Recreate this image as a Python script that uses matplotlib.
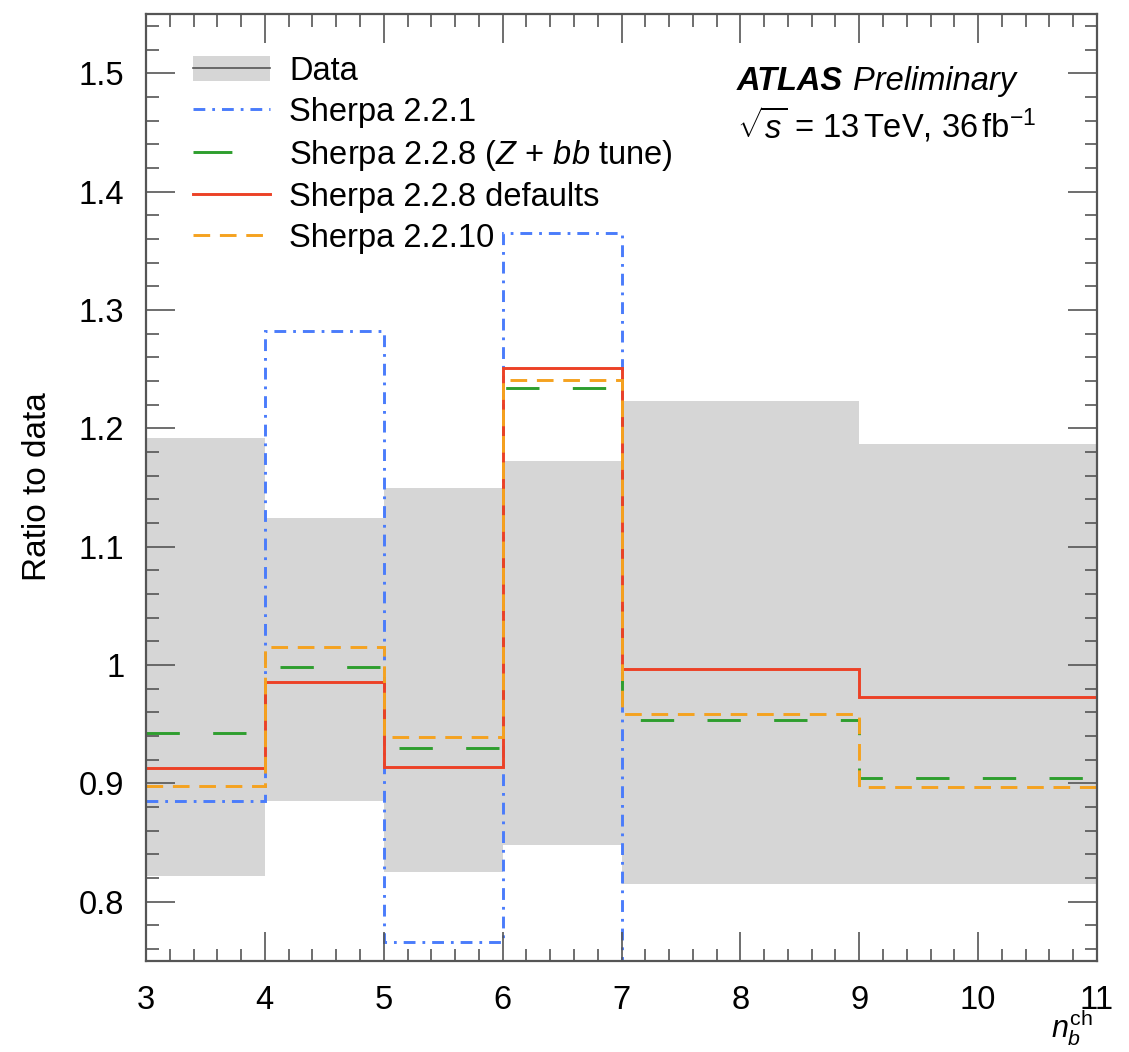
import matplotlib
matplotlib.use("Agg")
import matplotlib.pyplot as plt
from matplotlib.lines import Line2D
from matplotlib.patches import Patch
from matplotlib.ticker import MultipleLocator

# bin edges in n_b^ch
edges = [3, 4, 5, 6, 7, 9, 11]

# data uncertainty band (ratio to data)
data_lo = [0.822, 0.885, 0.825, 0.848, 0.815, 0.815]
data_hi = [1.192, 1.124, 1.150, 1.172, 1.223, 1.187]

# MC / data ratios
sherpa_221 = [0.885, 1.282, 0.766, 1.365, 0.70, 0.70]
sherpa_228_zbb = [0.943, 0.998, 0.930, 1.234, 0.954, 0.905]
sherpa_228_def = [0.913, 0.986, 0.914, 1.251, 0.997, 0.973]
sherpa_2210 = [0.898, 1.015, 0.939, 1.241, 0.959, 0.897]

labels = ["Data", "Sherpa 2.2.1", r"Sherpa 2.2.8 ($Z$ + $bb$ tune)",
          "Sherpa 2.2.8 defaults", "Sherpa 2.2.10"]

c_band = "#d6d6d6"
c_blue = "#4a7cfb"
c_green = "#2e9e2e"
c_red = "#ec4126"
c_orange = "#f5a21f"

plt.rcParams["font.family"] = ["Liberation Sans", "DejaVu Sans"]
plt.rcParams["mathtext.fontset"] = "custom"
plt.rcParams["mathtext.rm"] = "Liberation Sans"
plt.rcParams["mathtext.it"] = "Liberation Sans:italic"
plt.rcParams["mathtext.bf"] = "Liberation Sans:bold"
plt.rcParams["lines.scale_dashes"] = False

W, H = 1129, 1052
fig = plt.figure(figsize=(W / 100, H / 100), dpi=100)
ax = fig.add_axes([146 / W, 1 - 961 / H, (1097 - 146) / W, (961 - 14) / H])

lw = 2.1
blue_dash = (0, (8.5, 5, 2, 5))
green_dash = (0, (24, 24))
orange_dash = (0, (12, 7))

ax.stairs(data_hi, edges, baseline=data_lo, fill=True, color=c_band, lw=0)
ax.stairs(sherpa_221, edges, baseline=None, color=c_blue, lw=lw, linestyle=blue_dash)
ax.stairs(sherpa_228_zbb, edges, baseline=None, color=c_green, lw=lw, linestyle=green_dash)
ax.stairs(sherpa_228_def, edges, baseline=None, color=c_red, lw=lw)
ax.stairs(sherpa_2210, edges, baseline=None, color=c_orange, lw=lw, linestyle=orange_dash)

ax.set_xlim(3, 11)
ax.set_ylim(0.75, 1.55)
ax.xaxis.set_major_locator(MultipleLocator(1))
ax.xaxis.set_minor_locator(MultipleLocator(0.2))
ax.yaxis.set_major_locator(MultipleLocator(0.1))
ax.yaxis.set_minor_locator(MultipleLocator(0.02))
ax.yaxis.set_major_formatter(lambda v, p: "1" if abs(v - 1) < 1e-9 else f"{v:.1f}")

spine_c = "#555555"
for s in ax.spines.values():
    s.set_color(spine_c)
    s.set_linewidth(1.6)
ax.tick_params(which="both", direction="in", top=True, right=True, color=spine_c,
               labelsize=23.5, width=1.2)
ax.tick_params(which="major", length=21)
ax.tick_params(which="minor", length=9)
ax.tick_params(axis="x", which="major", pad=17)
ax.tick_params(axis="y", which="major", pad=15.5)

# legend with proxy handles
h_data = (Patch(facecolor=c_band, edgecolor="none"), Line2D([], [], color="#555555", lw=1.2))
h_blue = Line2D([], [], color=c_blue, lw=lw, linestyle=blue_dash)
h_green = Line2D([], [], color=c_green, lw=lw, linestyle=(0, (28, 40)))
h_red = Line2D([], [], color=c_red, lw=lw)
h_orange = Line2D([], [], color=c_orange, lw=lw, linestyle=orange_dash)
ax.legend([h_data, h_blue, h_green, h_red, h_orange], labels, loc="upper left",
          bbox_to_anchor=((193 - 146) / 951, 1 - (56 - 14) / 947), borderaxespad=0,
          borderpad=0, frameon=False, fontsize=23.5, handlelength=2.35,
          handleheight=0.8, handletextpad=0.6, labelspacing=0.3)

# experiment label
t = ax.text((737 - 146) / 951, 1 - (90 - 14) / 947, "ATLAS", transform=ax.transAxes,
            fontsize=23.5, fontweight="bold", fontstyle="italic", va="baseline")
ax.annotate("Preliminary", xy=(1, 0), xycoords=t, xytext=(7, 0),
            textcoords="offset points", fontsize=23.5, fontstyle="italic", va="bottom")
ax.text((737 - 146) / 951, 1 - (137 - 14) / 947,
        r"$\sqrt{s}$ = 13$\,$TeV, 36$\,$fb$^{-1}$",
        transform=ax.transAxes, fontsize=23.5, va="baseline")

fig.text(38 / W, 1 - 487 / H, "Ratio to data", rotation=90, ha="center", va="center",
         fontsize=24)
fig.text(1093 / W, 1 - 1038 / H, r"$n_{b}^{\mathrm{ch}}$", ha="right", va="baseline",
         fontsize=22)

fig.savefig("out.png", dpi=100)
